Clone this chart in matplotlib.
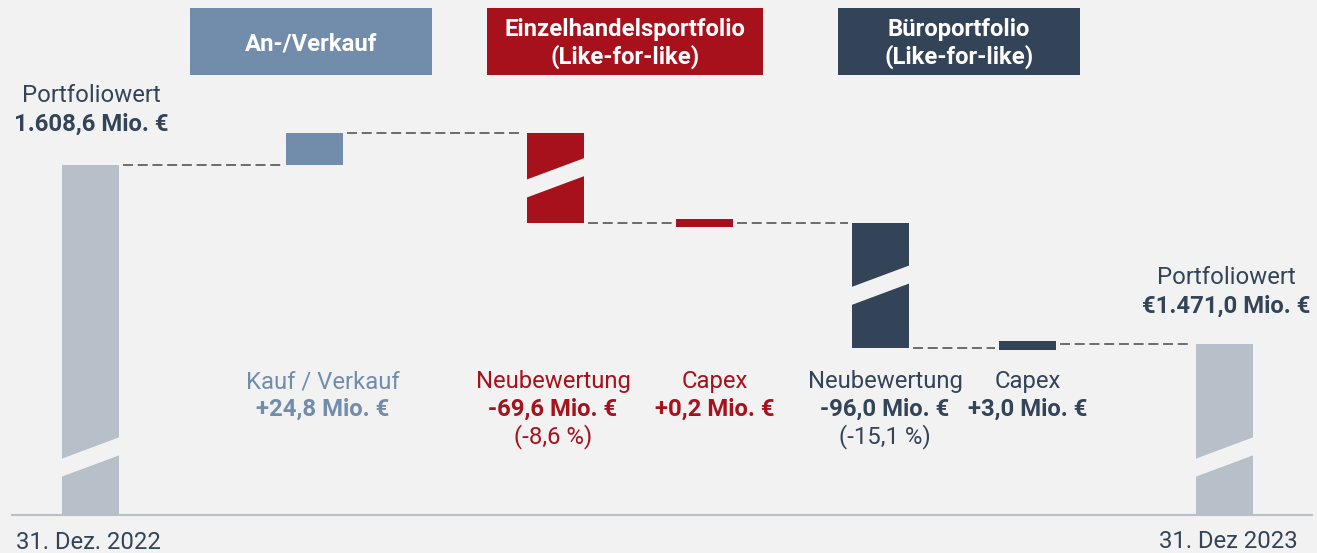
import matplotlib
matplotlib.use("Agg")
import matplotlib.pyplot as plt
from matplotlib.patches import Rectangle, Polygon

# ---------------- data ----------------
start_date = "31. Dez. 2022"
end_date = "31. Dez 2023"
total_title = "Portfoliowert"
start_value = 1608.6
end_value = 1471.0
start_value_label = "1.608,6 Mio. €"
end_value_label = "€1.471,0 Mio. €"

step_names = ["Kauf / Verkauf", "Neubewertung", "Capex", "Neubewertung", "Capex"]
step_values = [24.8, -69.6, 0.2, -96.0, 3.0]
step_value_labels = ["+24,8 Mio. €", "-69,6 Mio. €", "+0,2 Mio. €", "-96,0 Mio. €", "+3,0 Mio. €"]
step_pct_labels = ["", "(-8,6 %)", "", "(-15,1 %)", ""]
step_groups = [0, 1, 1, 2, 2]
step_breaks = [False, True, False, True, False]
group_titles = [["An-/Verkauf"],
                ["Einzelhandelsportfolio", "(Like-for-like)"],
                ["Büroportfolio", "(Like-for-like)"]]

# ---------------- style / layout ----------------
W, H = 1317, 553
BG = "#f2f2f2"
TOTAL_C = "#b7c0c9"
GROUP_C = ["#728dab", "#a6111c", "#334459"]
TEXT_DARK = "#334459"
DASH_C = "#555555"
FS = 17.2

plt.rcParams['font.family'] = ['Roboto', 'DejaVu Sans']
plt.rcParams['lines.scale_dashes'] = False

# bar slots in units of 100 px (axes starts at x=12 px)
x_slots = [0.905, 3.145, 5.555, 7.045, 8.805, 10.275, 12.245]
bar_w = 0.57
label_x = [323, 553, 715, 885, 1028]           # px, step labels
group_boxes = [(190, 432), (487, 763), (838, 1080)]  # px, title boxes
box_y = (8, 75)

fig = plt.figure(figsize=(W / 100, H / 100), dpi=100, facecolor=BG)
ax_left, ax_bottom_px, ax_w_px, ax_h_px = 12, 515, 1300, 515
ax = fig.add_axes([ax_left / W, (H - ax_bottom_px) / H, ax_w_px / W, ax_h_px / H])
ax.set_facecolor(BG)
ax.set_xlim(0.12, 0.12 + ax_w_px / 100)
ylim = (1339.2, 1735.4)
ax.set_ylim(*ylim)
upp = (ylim[1] - ylim[0]) / ax_h_px   # value units per pixel

for s in ["top", "right", "left"]:
    ax.spines[s].set_visible(False)
ax.spines["bottom"].set_color(TOTAL_C)
ax.spines["bottom"].set_linewidth(1.5)
ax.spines["bottom"].set_zorder(5)
ax.set_xticks([])
ax.set_yticks([])

MIN_PX = 8.5
BAND_T = 18 * upp
BAND_RISE = 22 * upp


def break_band(xc, yc):
    x0, x1 = xc - bar_w / 2 - 0.01, xc + bar_w / 2 + 0.01
    pts = [(x0, yc - BAND_RISE / 2 - BAND_T / 2),
           (x1, yc + BAND_RISE / 2 - BAND_T / 2),
           (x1, yc + BAND_RISE / 2 + BAND_T / 2),
           (x0, yc - BAND_RISE / 2 + BAND_T / 2)]
    ax.add_patch(Polygon(pts, closed=True, facecolor=BG, edgecolor="none", zorder=4))


# totals
ax.bar(x_slots[0], start_value, width=bar_w, color=TOTAL_C, zorder=3)
ax.bar(x_slots[-1], end_value, width=bar_w, color=TOTAL_C, zorder=3)
break_band(x_slots[0], ylim[0] + 58 * upp)
break_band(x_slots[-1], ylim[0] + 58 * upp)

# steps
levels = [start_value]
for v in step_values:
    levels.append(levels[-1] + v)

for i, v in enumerate(step_values):
    xc = x_slots[i + 1]
    bottom, height = levels[i], v
    if abs(v) < MIN_PX * upp:
        mid = levels[i] + v / 2
        bottom, height = mid - MIN_PX * upp / 2, MIN_PX * upp
    ax.bar(xc, height, bottom=bottom, width=bar_w, color=GROUP_C[step_groups[i]], zorder=3)
    if step_breaks[i]:
        break_band(xc, levels[i] + v / 2)

# connectors
gap = 0.04
for i in range(len(x_slots) - 1):
    y = levels[i] if i < len(levels) else end_value
    ax.plot([x_slots[i] + bar_w / 2 + gap, x_slots[i + 1] - bar_w / 2 - gap], [y, y],
            color=DASH_C, lw=1.2, linestyle=(0, (7.2, 3.4)), zorder=2)


def ftxt(x, y, s, **kw):
    fig.text(x / W, 1 - y / H, s, ha="center", va="baseline", fontsize=FS, **kw)


# title boxes
for (x0, x1), lines, c in zip(group_boxes, group_titles, GROUP_C):
    fig.add_artist(Rectangle((x0 / W, 1 - box_y[1] / H), (x1 - x0) / W, (box_y[1] - box_y[0]) / H,
                             transform=fig.transFigure, facecolor=c, edgecolor="none"))
    xc = (x0 + x1) / 2
    if len(lines) == 1:
        ftxt(xc, 50, lines[0], color="white", fontweight="bold")
    else:
        ftxt(xc, 36, lines[0], color="white", fontweight="bold")
        ftxt(xc, 64, lines[1], color="white", fontweight="bold")

# totals labels
ftxt(91, 102, total_title, color=TEXT_DARK)
ftxt(91, 131, start_value_label, color=TEXT_DARK, fontweight="bold")
ftxt(1226, 284, total_title, color=TEXT_DARK)
ftxt(1226, 313, end_value_label, color=TEXT_DARK, fontweight="bold")
ftxt(88, 549, start_date, color=TEXT_DARK)
ftxt(1228, 548, end_date, color=TEXT_DARK)

# step labels
for i in range(len(step_values)):
    c = GROUP_C[step_groups[i]]
    ftxt(label_x[i], 388, step_names[i], color=c)
    ftxt(label_x[i], 416, step_value_labels[i], color=c, fontweight="bold")
    if step_pct_labels[i]:
        ftxt(label_x[i], 443, step_pct_labels[i], color=c)

fig.savefig("out.png", dpi=100, facecolor=BG)
